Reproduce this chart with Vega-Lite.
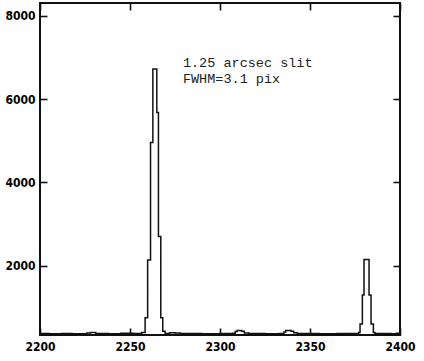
{
  "$schema": "https://vega.github.io/schema/vega-lite/v6.json",
  "width": 360,
  "height": 332,
  "autosize": {"type": "none"},
  "padding": {"left": 40, "top": 3, "right": 24, "bottom": 26},
  "background": "white",
  "config": {
    "view": {"stroke": "#111", "strokeWidth": 2},
    "axis": {
      "grid": false,
      "domain": false,
      "tickColor": "#111",
      "tickWidth": 1.6,
      "tickSize": -7,
      "labelFont": "DejaVu Sans Condensed, Liberation Sans Narrow, Liberation Sans",
      "labelFontWeight": "bold",
      "labelFontSize": 12,
      "labelColor": "#000",
      "title": null
    }
  },
  "layer": [
    {
      "data": {
        "values": [
          {"x": 2200, "v": 372}, {"x": 2205, "v": 368}, {"x": 2212, "v": 375}, {"x": 2218, "v": 370},
          {"x": 2226, "v": 385}, {"x": 2228, "v": 395}, {"x": 2231, "v": 372}, {"x": 2238, "v": 368},
          {"x": 2245, "v": 378}, {"x": 2252, "v": 372}, {"x": 2256.5, "v": 400}, {"x": 2258.4, "v": 750},
          {"x": 2259.8, "v": 2140}, {"x": 2261.4, "v": 4960}, {"x": 2262.7, "v": 6720}, {"x": 2264.9, "v": 5680},
          {"x": 2265.8, "v": 2700}, {"x": 2267.1, "v": 750}, {"x": 2268.2, "v": 430}, {"x": 2269.5, "v": 372},
          {"x": 2272, "v": 392}, {"x": 2275, "v": 385}, {"x": 2278, "v": 372}, {"x": 2290, "v": 370},
          {"x": 2300, "v": 376}, {"x": 2307, "v": 380}, {"x": 2308.5, "v": 420}, {"x": 2309.5, "v": 447},
          {"x": 2312, "v": 430}, {"x": 2313.5, "v": 385}, {"x": 2316, "v": 372}, {"x": 2325, "v": 368},
          {"x": 2333, "v": 375}, {"x": 2335.5, "v": 410}, {"x": 2336.5, "v": 445}, {"x": 2339.5, "v": 430},
          {"x": 2341, "v": 390}, {"x": 2343, "v": 372}, {"x": 2355, "v": 370}, {"x": 2365, "v": 375},
          {"x": 2375, "v": 372}, {"x": 2377, "v": 400}, {"x": 2377.8, "v": 600}, {"x": 2379.1, "v": 1300},
          {"x": 2380.0, "v": 2150}, {"x": 2382.8, "v": 1300}, {"x": 2383.9, "v": 600}, {"x": 2385.2, "v": 400},
          {"x": 2386.1, "v": 372}, {"x": 2395, "v": 370}, {"x": 2398, "v": 380}, {"x": 2400, "v": 395}
        ]
      },
      "mark": {"type": "line", "interpolate": "step-after", "color": "#111", "strokeWidth": 1.5, "clip": true},
      "encoding": {
        "x": {
          "field": "x", "type": "quantitative",
          "scale": {"domain": [2200, 2400], "nice": false, "zero": false},
          "axis": {"orient": "bottom", "values": [2200, 2250, 2300, 2350, 2400], "format": "d", "labelPadding": 13, "labelFlush": false}
        },
        "y": {
          "field": "v", "type": "quantitative",
          "scale": {"domain": [337, 8306], "nice": false, "zero": false},
          "axis": {"orient": "left", "values": [2000, 4000, 6000, 8000], "format": "d", "labelPadding": 12}
        }
      }
    },
    {
      "data": {
        "values": [
          {"x": 2279.4, "v": 6776, "label": "1.25 arcsec slit"},
          {"x": 2279.4, "v": 6392, "label": "FWHM=3.1 pix"}
        ]
      },
      "mark": {"type": "text", "align": "left", "baseline": "alphabetic", "font": "Liberation Mono", "fontSize": 13.5, "color": "#222"},
      "encoding": {
        "x": {
          "field": "x", "type": "quantitative",
          "scale": {"domain": [2200, 2400], "nice": false, "zero": false},
          "axis": {"orient": "top", "values": [2200, 2250, 2300, 2350, 2400], "labels": false}
        },
        "y": {
          "field": "v", "type": "quantitative",
          "scale": {"domain": [337, 8306], "nice": false, "zero": false},
          "axis": {"orient": "right", "values": [2000, 4000, 6000, 8000], "labels": false}
        },
        "text": {"field": "label", "type": "nominal"}
      }
    }
  ],
  "resolve": {"axis": {"x": "independent", "y": "independent"}}
}
